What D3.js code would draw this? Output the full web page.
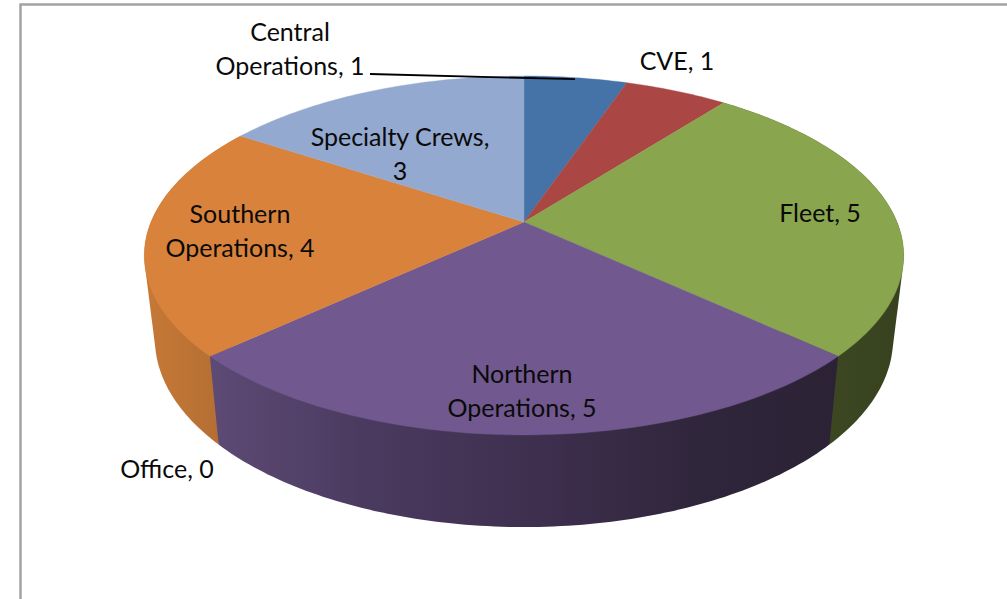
<!doctype html>
<html>
  <head>
    <meta charset="utf-8">
    <script src="https://d3js.org/d3.v7.min.js"></script>
    <style>
      html, body { margin: 0; background: #fff; }
      svg { display: block; }
      text { font-family: Lato, "Open Sans", sans-serif; font-size: 25px; fill: #0a0a0a; }
    </style>
  </head>
  <body>
    <svg id="chart" width="1007" height="599"></svg>

    <script>
      var categories = ["Central Operations", "CVE", "Fleet", "Northern Operations", "Office", "Southern Operations", "Specialty Crews"];
      var values = [1, 1, 5, 5, 0, 4, 3];
      var colors = ["#4572A7", "#AA4643", "#89A54E", "#71588F", "#4198AF", "#D9823C", "#93A9CF"];

      // label lines and where they sit, same order as categories
      var labelLines = [
        ["Central", "Operations, 1"],
        ["CVE, 1"],
        ["Fleet, 5"],
        ["Northern", "Operations, 5"],
        ["Office, 0"],
        ["Southern", "Operations, 4"],
        ["Specialty Crews,", "3"]
      ];
      var labelPos = [[290, 41], [677, 70], [820, 222], [522, 383], [167, 478], [240, 223], [400, 146]];

      var svg = d3.select("#chart");

      // perspective pie: the circle goes through a small projective map,
      // that is why the apex is not in the middle of the ellipse
      var tilt = 0.1866;
      function project(face, t) {
        var d = 1 + tilt * Math.cos(t);
        return [face.x + face.a * Math.sin(t) / d, face.y - face.b * Math.cos(t) / d];
      }
      var topFace = { x: 524, y: 222, a: 373, b: 173.2 };
      var baseFace = { x: 524, y: 303.9, a: 362.6, b: 181.5 };

      var pie = d3.pie().sort(null).startAngle(0).endAngle(2 * Math.PI);
      var arcs = pie(values);
      var line = d3.line();

      function arcPoints(face, a0, a1) {
        var n = Math.max(2, Math.ceil((a1 - a0) * 60));
        return d3.range(n + 1).map(function(i) {
          return project(face, a0 + (a1 - a0) * i / n);
        });
      }

      // side wall shading runs left to right
      var defs = svg.append("defs");
      var wallShades = {
        2: ["#3C4722", "#37411F"],
        3: ["#5D4A75", "#4A3A5F", "#3F3050", "#30263B", "#2C2236"],
        5: ["#C67937", "#B56F33"]
      };
      var wallX = {
        2: d3.scaleLinear().domain([0, 1]).range([830, 904]),
        3: d3.scaleLinear().domain([0, 0.25, 0.5, 0.78, 1]).range([210, 380, 524, 690, 837]),
        5: d3.scaleLinear().domain([0, 1]).range([145, 218])
      };
      Object.keys(wallShades).forEach(function(k) {
        var shades = wallShades[k];
        var grad = defs.append("linearGradient")
          .attr("id", "wall" + k)
          .attr("gradientUnits", "userSpaceOnUse")
          .attr("x1", wallX[k].range()[0]).attr("y1", 0)
          .attr("x2", wallX[k].range()[wallX[k].range().length - 1]).attr("y2", 0);
        grad.selectAll("stop")
          .data(shades)
          .enter()
          .append("stop")
            .attr("offset", function(d, i) { return wallX[k].domain()[i]; })
            .attr("stop-color", function(d) { return d; });
      });

      // chart area border, only top and left show in the crop
      svg.append("path")
        .attr("d", line([[20.5, 599], [20.5, 4.5], [1007, 4.5]]))
        .attr("fill", "none")
        .attr("stroke", "#a3a3a3")
        .attr("stroke-width", 2.5);

      // walls first. A hull gives the straight silhouette down the sides,
      // the inner part of it ends up under the top face anyway.
      // Northern goes last so it keeps clean edges against its neighbours.
      var walls = arcs.filter(function(d) { return wallShades[d.index] !== undefined; })
        .sort(function(a, b) { return (a.index === 3) - (b.index === 3); });

      svg.selectAll("path.wall")
        .data(walls)
        .enter()
        .append("path")
          .attr("class", "wall")
          .attr("fill", function(d) { return "url(#wall" + d.index + ")"; })
          .attr("d", function(d) {
            var upper = arcPoints(topFace, d.startAngle, d.endAngle);
            var lower = arcPoints(baseFace, d.startAngle, d.endAngle);
            return line(d3.polygonHull(upper.concat(lower))) + "Z";
          });

      // then the top of the pie
      svg.selectAll("path.slice")
        .data(arcs.filter(function(d) { return d.value > 0; }))
        .enter()
        .append("path")
          .attr("class", "slice")
          .attr("fill", function(d) { return colors[d.index]; })
          .attr("stroke", function(d) { return colors[d.index]; })
          .attr("stroke-width", 0.4)
          .attr("d", function(d) {
            var pts = arcPoints(topFace, d.startAngle, d.endAngle);
            return line([[topFace.x, topFace.y]].concat(pts)) + "Z";
          });

      // leader for Central Operations
      svg.append("path")
        .attr("d", line([[370, 74], [575, 79.2]]))
        .attr("stroke", "#000")
        .attr("stroke-width", 1.8);

      var labels = svg.selectAll("text.label")
        .data(categories)
        .enter()
        .append("text")
          .attr("class", "label")
          .attr("text-anchor", "middle")
          .attr("x", function(d, i) { return labelPos[i][0]; })
          .attr("y", function(d, i) { return labelPos[i][1]; });

      labels.selectAll("tspan")
        .data(function(d, i) { return labelLines[i].map(function(s) { return { s: s, i: i }; }); })
        .enter()
        .append("tspan")
          .attr("x", function(d) { return labelPos[d.i][0]; })
          .attr("dy", function(d, j) { return j === 0 ? 0 : 34; })
          .text(function(d) { return d.s; });
    </script>
  </body>
</html>
